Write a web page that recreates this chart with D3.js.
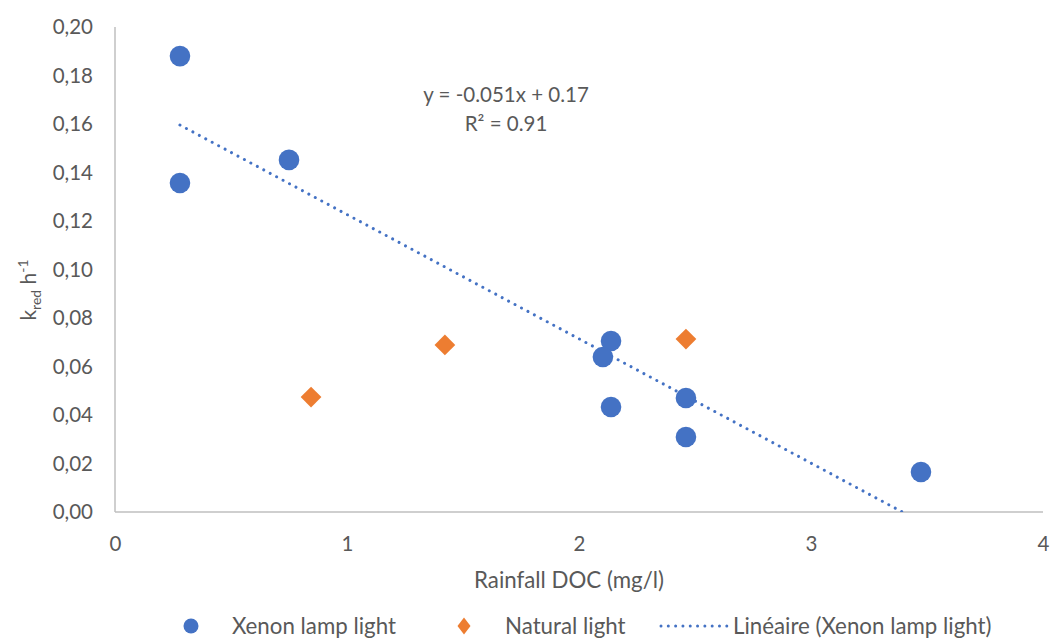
<!DOCTYPE html>
<html>
<head>
<meta charset="utf-8">
<script src="https://cdn.jsdelivr.net/npm/d3@7"></script>
<style>
  html, body { margin: 0; padding: 0; background: #fff; }
  svg { display: block; font-family: Lato, "Open Sans", sans-serif; }
</style>
</head>
<body>
<svg id="chart" width="1050" height="639"></svg>
<script>
// Rainfall DOC (mg/l) vs photoreduction rate constant k_red (h^-1)
const xenonDOC = [0.28, 0.28, 0.75, 2.138, 2.103, 2.138, 2.461, 2.461, 3.474];
const xenonK   = [0.188, 0.1357, 0.1452, 0.0705, 0.0639, 0.0433, 0.047, 0.0309, 0.0165];
const naturalDOC = [0.845, 1.422, 2.461];
const naturalK   = [0.0474, 0.0689, 0.0713];
const xTicks = [0, 1, 2, 3, 4];
const yTicks = [0, 0.02, 0.04, 0.06, 0.08, 0.10, 0.12, 0.14, 0.16, 0.18, 0.20];
const seriesNames = ["Xenon lamp light", "Natural light", "Linéaire (Xenon lamp light)"];

const blue = "#4472C4", orange = "#ED7D31", axisGrey = "#BFBFBF", textGrey = "#595959";

const svg = d3.select("#chart");
const x = d3.scaleLinear().domain([0, 4]).range([115, 1043]);
const y = d3.scaleLinear().domain([0, 0.20]).range([512, 27]);

// Least-squares fit of the xenon series
const n = xenonDOC.length;
const mx = d3.mean(xenonDOC), my = d3.mean(xenonK);
let sxy = 0, sxx = 0, syy = 0;
for (let i = 0; i < n; i++) {
  sxy += (xenonDOC[i] - mx) * (xenonK[i] - my);
  sxx += (xenonDOC[i] - mx) ** 2;
  syy += (xenonK[i] - my) ** 2;
}
const slope = sxy / sxx;
const intercept = my - slope * mx;
const r2 = (sxy * sxy) / (sxx * syy);

// Plot-area clip so the trendline stops at the axis
svg.append("clipPath").attr("id", "plotClip")
  .append("rect").attr("x", 115).attr("y", 27).attr("width", 928).attr("height", 485);

// Axes (lines only, no ticks)
const fmtY = v => d3.format(".2f")(v).replace(".", ",");
const yAxis = svg.append("g").attr("transform", `translate(${x(0)},0)`)
  .call(d3.axisLeft(y).tickValues(yTicks).tickFormat(fmtY).tickSize(0).tickPadding(22));
const xAxis = svg.append("g").attr("transform", `translate(0,${y(0)})`)
  .call(d3.axisBottom(x).tickValues(xTicks).tickFormat(d3.format("d")).tickSize(0).tickPadding(24));
[xAxis, yAxis].forEach(g => {
  g.select(".domain").attr("stroke", axisGrey).attr("stroke-width", 1.5);
  g.selectAll("text").attr("fill", textGrey).style("font-size", "20.5px").style("font-family", "Lato");
});
yAxis.select(".domain").attr("d", `M0,${y(0)}V${y(0.20)}`);
xAxis.select(".domain").attr("d", `M${x(0)},0H${x(4)}`);

// Axis titles
svg.append("text").attr("x", 569).attr("y", 588).attr("text-anchor", "middle")
  .attr("fill", textGrey).style("font-size", "22.3px").text("Rainfall DOC (mg/l)");
const yt = svg.append("text").attr("transform", "translate(36,290) rotate(-90)")
  .attr("text-anchor", "middle").attr("fill", textGrey).style("font-size", "21px");
yt.append("tspan").text("k");
yt.append("tspan").attr("dy", 5).style("font-size", "14px").text("red");
yt.append("tspan").attr("dy", -5).text(" h");
yt.append("tspan").attr("dy", -8).style("font-size", "14px").text("-1");

// Trendline
const xFit = d3.extent(xenonDOC);
svg.append("line").attr("clip-path", "url(#plotClip)")
  .attr("x1", x(xFit[0])).attr("y1", y(slope * xFit[0] + intercept))
  .attr("x2", x(xFit[1])).attr("y2", y(slope * xFit[1] + intercept))
  .attr("stroke", blue).attr("stroke-width", 3).attr("stroke-linecap", "round")
  .attr("stroke-dasharray", "0.01 7.3");

// Equation label
const fmtCoef = (f, v) => d3.format(f)(v).replace("\u2212", "-");
const eq = svg.append("g").attr("fill", textGrey).style("font-size", "20.5px").attr("text-anchor", "middle");
eq.append("text").attr("x", 506).attr("y", 102)
  .text(`y = ${fmtCoef(".3f", slope)}x + ${fmtCoef(".2f", intercept)}`);
eq.append("text").attr("x", 506).attr("y", 131).text(`R² = ${fmtCoef(".2f", r2)}`);

// Markers
svg.append("g").selectAll("circle").data(d3.range(n)).join("circle")
  .attr("cx", i => x(xenonDOC[i])).attr("cy", i => y(xenonK[i])).attr("r", 10.3).attr("fill", blue);
svg.append("g").selectAll("path").data(d3.range(naturalDOC.length)).join("path")
  .attr("transform", i => `translate(${x(naturalDOC[i])},${y(naturalK[i])}) rotate(45)`)
  .attr("d", d3.symbol().type(d3.symbolSquare).size(215)()).attr("fill", orange);

// Legend
const ly = 626;
const leg = svg.append("g").attr("fill", textGrey).style("font-size", "22.3px");
leg.append("circle").attr("cx", 191).attr("cy", ly).attr("r", 7.5).attr("fill", blue);
leg.append("text").attr("x", 232).attr("y", ly + 8).text(seriesNames[0]);
leg.append("path").attr("transform", `translate(464,${ly})`)
  .attr("d", "M0,-8.5L6.5,0L0,8.5L-6.5,0Z").attr("fill", orange);
leg.append("text").attr("x", 505).attr("y", ly + 8).text(seriesNames[1]);
leg.append("line").attr("x1", 661).attr("x2", 727).attr("y1", ly).attr("y2", ly)
  .attr("stroke", blue).attr("stroke-width", 3).attr("stroke-linecap", "round")
  .attr("stroke-dasharray", "0.01 7.3");
leg.append("text").attr("x", 733).attr("y", ly + 8).text(seriesNames[2]);
</script>
</body>
</html>
